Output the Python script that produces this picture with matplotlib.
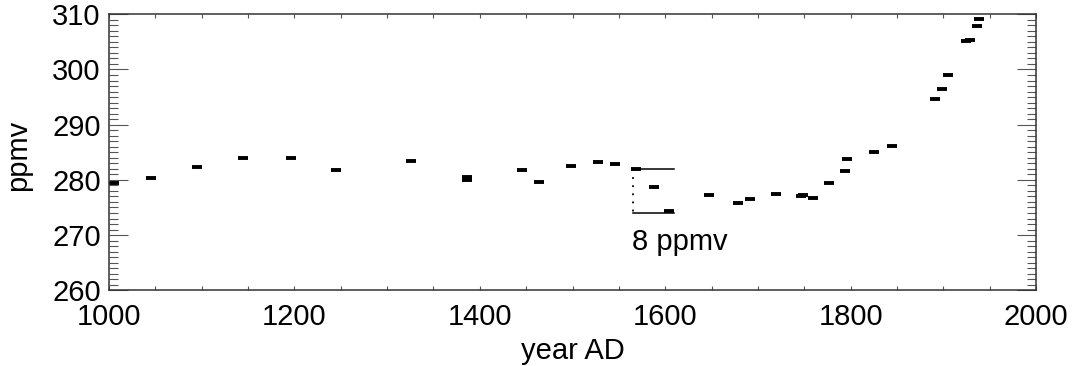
import matplotlib
matplotlib.use("Agg")
import matplotlib.pyplot as plt
from matplotlib.ticker import MultipleLocator

# Data
years = [1005, 1045, 1095, 1145, 1196, 1245, 1326, 1386, 1386, 1445, 1464,
         1498, 1527, 1546, 1569, 1588, 1604, 1647, 1678, 1691, 1720, 1747,
         1749, 1759, 1777, 1794, 1796, 1825, 1845, 1891, 1899, 1905, 1925,
         1929, 1936, 1939]
co2_ppmv = [279.4, 280.3, 282.4, 283.9, 283.9, 281.8, 283.4, 280.0, 280.6,
            281.8, 279.6, 282.5, 283.2, 282.8, 281.9, 278.7, 274.4, 277.2,
            275.9, 276.5, 277.5, 277.0, 277.3, 276.7, 279.5, 281.6, 283.7,
            285.1, 286.2, 294.7, 296.5, 299.0, 305.2, 305.4, 307.9, 309.2]

# Scale bar (8 ppmv)
scale_x = [1565, 1609]
scale_y = [282.0, 274.0]
scale_label = "8 ppmv"

xticks = [1000, 1200, 1400, 1600, 1800, 2000]
yticks = [260, 270, 280, 290, 300, 310]

plt.rcParams['font.family'] = ['Liberation Sans', 'DejaVu Sans']
FS = 21

fig = plt.figure(figsize=(10.73, 3.66), dpi=100)
ax = fig.add_axes([109/1073, (366-290.3)/366, (1036-109)/1073, (290.3-14.3)/366])

ax.plot(years, co2_ppmv, linestyle='none', marker='_', color='black',
        markersize=7.7, markeredgewidth=2.8)

# scale bar
ax.plot(scale_x, [scale_y[0], scale_y[0]], color='black', lw=1.1)
ax.plot(scale_x, [scale_y[1], scale_y[1]], color='black', lw=1.1)
ax.plot([scale_x[0], scale_x[0]], scale_y, color='black', lw=1.3,
        linestyle=(0, (1.0, 3.5)))
ax.text(scale_x[0] - 1, 267.3, scale_label, fontsize=FS, ha='left',
        va='baseline')

ax.set_xlim(1000, 2000)
ax.set_ylim(260, 310)
ax.set_xticks(xticks)
ax.set_yticks(yticks)
ax.xaxis.set_minor_locator(MultipleLocator(50))
ax.yaxis.set_minor_locator(MultipleLocator(1))

ax.tick_params(axis='both', which='both', direction='in', top=True,
               right=True, color='#555555', width=0.8, labelsize=FS)
ax.tick_params(axis='y', which='major', length=13.5, pad=6)
ax.tick_params(axis='y', which='minor', length=6.5)
ax.tick_params(axis='x', which='both', length=2.8)
ax.tick_params(axis='x', which='major', pad=9.5)

for s in ax.spines.values():
    s.set_color('#333333')
    s.set_linewidth(1.1)

ax.set_xlabel('year AD', fontsize=FS)
ax.set_ylabel('ppmv', fontsize=FS)
ax.xaxis.set_label_coords(0.5, -0.17)
ax.yaxis.set_label_coords(-0.083, 0.49)

fig.savefig('out.png', dpi=100)
